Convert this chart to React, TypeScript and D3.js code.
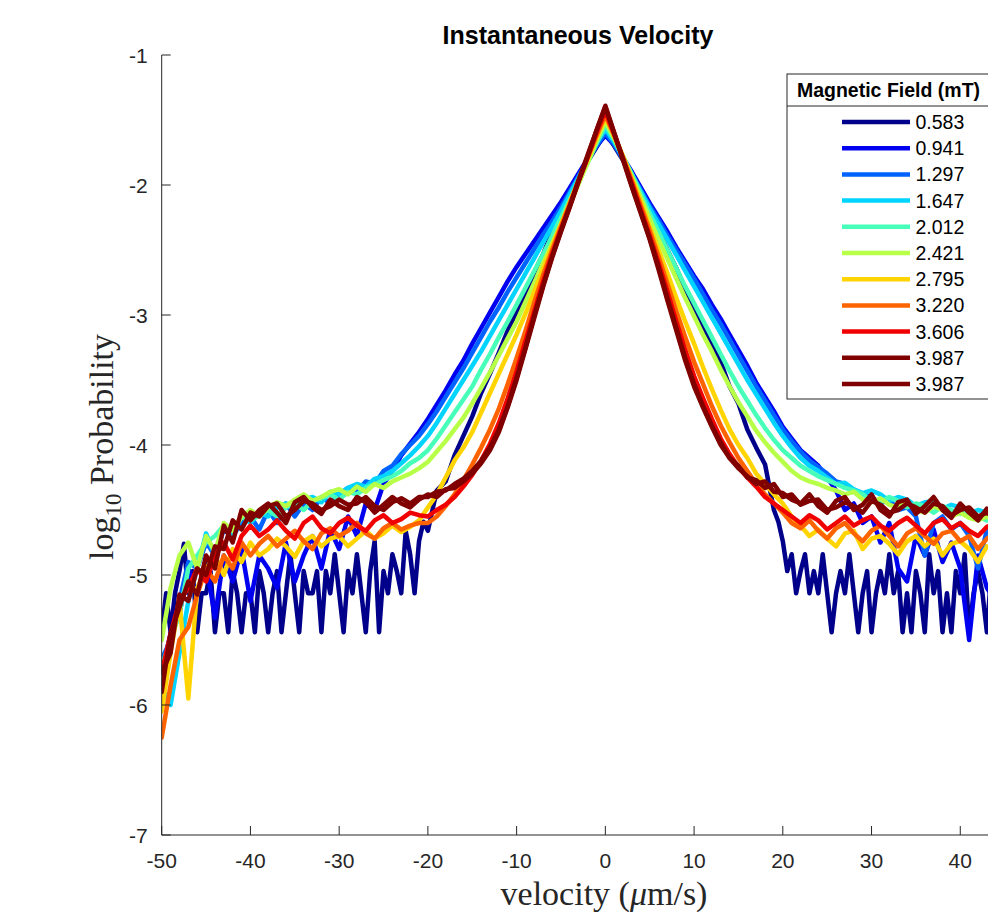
import React from "react";
import * as d3 from "d3";

const velocity = [
  -50, -49, -48, -47, -46, -45, -44, -43, -42, -41,
  -40, -39, -38, -37, -36, -35, -34, -33, -32, -31,
  -30, -29, -28, -27, -26, -25, -24, -23, -22, -21,
  -20, -19, -18, -17, -16, -15, -14, -13, -12, -11,
  -10, -9, -8, -7, -6, -5, -4, -3, -2, -1,
  0, 1, 2, 3, 4, 5, 6, 7, 8, 9,
  10, 11, 12, 13, 14, 15, 16, 17, 18, 19,
  20, 21, 22, 23, 24, 25, 26, 27, 28, 29,
  30, 31, 32, 33, 34, 35, 36, 37, 38, 39,
  40, 41, 42, 43, 44, 45,
];

// finer velocity grid for the 0.583 mT series (few counts -> noisy tails)
const velocityFine = [
  -50, -49.5, -49, -48.5, -48, -47.5, -47, -46.5, -46, -45.5,
  -45, -44.5, -44, -43.5, -43, -42.5, -42, -41.5, -41, -40.5,
  -40, -39.5, -39, -38.5, -38, -37.5, -37, -36.5, -36, -35.5,
  -35, -34.5, -34, -33.5, -33, -32.5, -32, -31.5, -31, -30.5,
  -30, -29.5, -29, -28.5, -28, -27.5, -27, -26.5, -26, -25.5,
  -25, -24.5, -24, -23.5, -23, -22.5, -22, -21.5, -21, -20.5,
  -20,
  -19, -18, -17, -16, -15, -14, -13, -12, -11, -10,
  -9, -8, -7, -6, -5, -4, -3, -2, -1, 0,
  1, 2, 3, 4, 5, 6, 7, 8, 9, 10,
  11, 12, 13, 14, 15, 16, 17, 18, 19,
  19.5, 20, 20.5, 21, 21.5, 22, 22.5, 23, 23.5, 24,
  24.5, 25, 25.5, 26, 26.5, 27, 27.5, 28, 28.5, 29,
  29.5, 30, 30.5, 31, 31.5, 32, 32.5, 33, 33.5, 34,
  34.5, 35, 35.5, 36, 36.5, 37, 37.5, 38, 38.5, 39,
  39.5, 40, 40.5, 41, 41.5, 42, 42.5, 43, 43.5, 44,
  44.5, 45,
];

const fieldLabels = ["0.583", "0.941", "1.297", "1.647", "2.012", "2.421", "2.795", "3.220", "3.606", "3.987", "3.987"];

const seriesColors = ["#00008A", "#0000F0", "#0063FF", "#00D4FF", "#47FFB8", "#B8FF47", "#FFD400", "#FF6300", "#F00000", "#800000", "#800000"];

const s0583 = [
  -5.44, -5.14, -5.44, -5.14, -4.97, -4.76, -5.14, -4.97, -5.44, -5.14,
  -5.14, -4.97, -5.44, -5.14, -5.14, -5.44, -4.97, -5.14, -5.44, -5.14,
  -5.14, -5.44, -4.97, -5.14, -5.44, -5.14, -4.97, -5.44, -5.14, -4.84,
  -5.14, -5.44, -4.97, -5.14, -5.14, -4.97, -5.44, -4.97, -5.14, -4.84,
  -5.14, -5.44, -4.97, -5.14, -4.84, -5.14, -5.44, -4.97, -4.74, -5.44,
  -4.97, -5.14, -4.84, -4.97, -5.14, -4.66, -4.84, -5.14, -4.74, -4.59,
  -4.66,
  -4.35, -4.28, -4.08, -3.93, -3.78, -3.6, -3.45, -3.29, -3.12, -2.98,
  -2.84, -2.67, -2.53, -2.36, -2.21, -2.08, -1.94, -1.82, -1.71, -1.6,
  -1.7, -1.81, -1.93, -2.06, -2.2, -2.35, -2.5, -2.64, -2.8, -2.95,
  -3.09, -3.23, -3.36, -3.55, -3.68, -3.88, -4.02, -4.15, -4.5,
  -4.59, -4.74, -4.97, -4.84, -5.14, -4.97, -4.84, -5.14, -4.97, -5.14,
  -4.84, -5.14, -5.44, -5.14, -4.97, -5.14, -4.84, -5.14, -5.44, -5.14,
  -4.97, -5.44, -5.14, -4.97, -5.14, -4.84, -5.14, -4.97, -5.44, -5.14,
  -5.44, -4.97, -5.14, -5.44, -4.84, -5.14, -4.97, -5.44, -5.14, -5.44,
  -4.97, -5.14, -4.84, -5.44, -5.14, -4.97, -5.14, -5.44, -4.97, -5.14,
  -5.44, -5.14,
];

const s0941 = [
  -5.75, -5.45, -5.3, -4.95, -5.15, -4.9, -5.33, -4.85, -5.05, -4.8,
  -5.2, -4.85, -4.95, -5.1, -4.75, -5.05, -4.85, -4.7, -4.95, -4.65,
  -4.8, -4.55, -4.7, -4.45, -4.5, -4.3, -4.2, -4.08, -3.99, -3.9,
  -3.8, -3.69, -3.58, -3.46, -3.35, -3.22, -3.1, -2.98, -2.86, -2.74,
  -2.63, -2.53, -2.43, -2.33, -2.23, -2.13, -2.02, -1.91, -1.8, -1.7,
  -1.62, -1.69, -1.79, -1.9, -2.02, -2.14, -2.25, -2.36, -2.48, -2.59,
  -2.7, -2.8, -2.92, -3.03, -3.15, -3.27, -3.39, -3.52, -3.63, -3.74,
  -3.86, -3.95, -4.04, -4.1, -4.16, -4.25, -4.35, -4.5, -4.45, -4.6,
  -4.55, -4.75, -4.6, -4.95, -5.05, -4.7, -4.85, -4.65, -4.9, -4.75,
  -4.95, -5.5, -4.85, -5.1, -5.2, -5.0,
];

const s1297 = [
  -5.65, -5.5, -5.2, -4.9, -4.95, -4.75, -4.85, -4.65, -4.7, -4.6,
  -4.55, -4.65, -4.5, -4.6, -4.45, -4.55, -4.45, -4.5, -4.4, -4.45,
  -4.38, -4.33, -4.36, -4.28, -4.3, -4.2, -4.16, -4.07, -4.0, -3.93,
  -3.84, -3.74, -3.63, -3.52, -3.41, -3.29, -3.17, -3.05, -2.94, -2.82,
  -2.71, -2.6, -2.49, -2.38, -2.28, -2.17, -2.05, -1.93, -1.81, -1.7,
  -1.6, -1.69, -1.8, -1.92, -2.04, -2.16, -2.27, -2.39, -2.5, -2.61,
  -2.72, -2.84, -2.96, -3.07, -3.19, -3.31, -3.43, -3.55, -3.66, -3.77,
  -3.88, -3.97, -4.05, -4.12, -4.17, -4.22, -4.28, -4.3, -4.35, -4.38,
  -4.4, -4.45, -4.42, -4.5, -4.48, -4.55, -4.85, -4.6, -4.55, -4.65,
  -4.6, -4.7, -4.95, -4.65, -4.75, -4.7,
];

const s1647 = [
  -5.85, -6.0, -5.6, -5.2, -4.95, -4.68, -4.85, -4.62, -4.7, -4.55,
  -4.6, -4.52, -4.55, -4.48, -4.45, -4.49, -4.42, -4.4, -4.44, -4.36,
  -4.38, -4.33, -4.3, -4.32, -4.26, -4.24, -4.2, -4.14, -4.08, -4.01,
  -3.93, -3.83, -3.72, -3.61, -3.5, -3.39, -3.28, -3.16, -3.04, -2.92,
  -2.8, -2.68, -2.56, -2.44, -2.32, -2.2, -2.07, -1.94, -1.81, -1.68,
  -1.57, -1.67, -1.79, -1.92, -2.05, -2.18, -2.3, -2.42, -2.54, -2.66,
  -2.78, -2.9, -3.02, -3.14, -3.26, -3.38, -3.5, -3.61, -3.72, -3.83,
  -3.93, -4.02, -4.1, -4.16, -4.2, -4.25, -4.3, -4.29, -4.34, -4.37,
  -4.35, -4.38, -4.43, -4.4, -4.42, -4.47, -4.44, -4.43, -4.49, -4.46,
  -4.48, -4.53, -4.5, -4.52, -4.58, -4.55,
];

const s2012 = [
  -5.7, -5.5, -5.3, -4.95, -4.85, -4.75, -4.7, -4.62, -4.66, -4.55,
  -4.58, -4.54, -4.5, -4.55, -4.48, -4.45, -4.5, -4.43, -4.41, -4.38,
  -4.42, -4.36, -4.38, -4.33, -4.3, -4.27, -4.24, -4.2, -4.14, -4.1,
  -4.04, -3.95, -3.85, -3.75, -3.65, -3.55, -3.42, -3.3, -3.17, -3.05,
  -2.92, -2.79, -2.66, -2.53, -2.39, -2.25, -2.11, -1.97, -1.83, -1.68,
  -1.54, -1.65, -1.78, -1.92, -2.07, -2.22, -2.36, -2.5, -2.64, -2.78,
  -2.91, -3.04, -3.17, -3.3, -3.43, -3.55, -3.66, -3.77, -3.87, -3.96,
  -4.04, -4.1, -4.16, -4.2, -4.24, -4.27, -4.3, -4.33, -4.35, -4.38,
  -4.42, -4.44, -4.4, -4.43, -4.48, -4.45, -4.47, -4.52, -4.47, -4.5,
  -4.53, -4.5, -4.55, -4.58, -4.54, -4.6,
];

const s2421 = [
  -5.5, -5.1, -4.85, -4.75, -4.95, -4.7, -4.82, -4.6, -4.66, -4.55,
  -4.5, -4.55, -4.48, -4.44, -4.47, -4.42, -4.38, -4.43, -4.4, -4.36,
  -4.34, -4.38, -4.32, -4.36, -4.3, -4.33, -4.28, -4.25, -4.22, -4.18,
  -4.13, -4.05, -3.97, -3.88, -3.79, -3.68, -3.56, -3.44, -3.31, -3.18,
  -3.05, -2.9, -2.75, -2.6, -2.45, -2.3, -2.15, -1.99, -1.83, -1.66,
  -1.51, -1.64, -1.79, -1.94, -2.1, -2.26, -2.42, -2.57, -2.72, -2.87,
  -3.01, -3.15, -3.28, -3.42, -3.55, -3.67, -3.78, -3.89, -3.98, -4.06,
  -4.13, -4.2, -4.25, -4.28, -4.3, -4.33, -4.35, -4.38, -4.36, -4.42,
  -4.44, -4.41, -4.46, -4.48, -4.44, -4.5, -4.52, -4.47, -4.5, -4.55,
  -4.52, -4.56, -4.58, -4.55, -4.6, -4.62,
];

const s2795 = [
  -6.05, -5.6, -5.2, -5.95, -5.1, -4.95, -4.85, -5.0, -4.8, -4.9,
  -4.75, -4.85, -4.8, -4.72, -4.78, -4.86, -4.74, -4.7, -4.78, -4.72,
  -4.7, -4.78, -4.72, -4.66, -4.72, -4.68, -4.62, -4.67, -4.63, -4.58,
  -4.48, -4.38, -4.25, -4.12, -4.02, -3.9, -3.75, -3.6, -3.45, -3.3,
  -3.15, -2.99, -2.82, -2.64, -2.47, -2.3, -2.13, -1.96, -1.8, -1.64,
  -1.48, -1.62, -1.78, -1.95, -2.13, -2.32, -2.5, -2.68, -2.87, -3.05,
  -3.22, -3.4, -3.57, -3.73, -3.88, -4.0, -4.1, -4.22, -4.3, -4.38,
  -4.45, -4.55, -4.62, -4.7, -4.65, -4.72, -4.78, -4.68, -4.66, -4.8,
  -4.72, -4.7, -4.76, -4.84, -4.74, -4.7, -4.78, -4.72, -4.85, -4.76,
  -4.74, -4.8, -4.9, -4.78, -4.8, -4.86,
];

const s3220 = [
  -6.25, -5.85, -5.5, -5.4, -5.15, -4.95, -5.05, -4.85, -4.95, -4.75,
  -4.85, -4.76, -4.7, -4.78, -4.72, -4.66, -4.74, -4.8, -4.68, -4.64,
  -4.7, -4.66, -4.6, -4.68, -4.72, -4.64, -4.6, -4.65, -4.62, -4.6,
  -4.6, -4.55, -4.47, -4.38, -4.27, -4.15, -4.02, -3.88, -3.72, -3.53,
  -3.33, -3.12, -2.9, -2.69, -2.5, -2.32, -2.14, -1.96, -1.79, -1.62,
  -1.46, -1.62, -1.79, -1.97, -2.16, -2.35, -2.55, -2.76, -2.97, -3.17,
  -3.36, -3.53, -3.7, -3.85, -3.98, -4.1, -4.2, -4.3, -4.38, -4.45,
  -4.52, -4.6, -4.64, -4.58, -4.66, -4.72, -4.64, -4.6, -4.68, -4.74,
  -4.66, -4.62, -4.7, -4.78, -4.68, -4.64, -4.7, -4.76, -4.68, -4.66,
  -4.74, -4.7, -4.8, -4.72, -4.68, -4.75,
];

const s3606 = [
  -5.75, -5.45, -5.2, -5.1, -4.95, -5.05, -4.85, -4.75, -4.88, -4.7,
  -4.62, -4.7, -4.65, -4.58, -4.66, -4.72, -4.6, -4.55, -4.64, -4.68,
  -4.6, -4.56, -4.62, -4.66, -4.58, -4.54, -4.6, -4.57, -4.52, -4.54,
  -4.55, -4.5, -4.46, -4.4, -4.32, -4.23, -4.12, -3.99, -3.83, -3.64,
  -3.43, -3.2, -2.97, -2.74, -2.53, -2.34, -2.16, -1.97, -1.79, -1.6,
  -1.43, -1.61, -1.8, -1.99, -2.19, -2.39, -2.6, -2.82, -3.05, -3.27,
  -3.47, -3.64, -3.8, -3.95, -4.07, -4.17, -4.25, -4.32, -4.4, -4.45,
  -4.5, -4.55, -4.6, -4.54, -4.58, -4.65, -4.6, -4.55, -4.62, -4.58,
  -4.55, -4.62, -4.66, -4.6, -4.56, -4.62, -4.68, -4.6, -4.57, -4.64,
  -4.6, -4.66, -4.7, -4.63, -4.6, -4.66,
];

const s3987a = [
  -5.9, -5.45, -5.25, -5.05, -5.15, -4.85, -4.95, -4.62, -4.75, -4.5,
  -4.58, -4.5, -4.45, -4.52, -4.6, -4.44, -4.4, -4.48, -4.53, -4.42,
  -4.47, -4.5, -4.4, -4.44, -4.52, -4.46, -4.4, -4.45, -4.48, -4.42,
  -4.38, -4.4, -4.34, -4.33, -4.28, -4.22, -4.14, -4.04, -3.9, -3.71,
  -3.5, -3.26, -3.02, -2.78, -2.56, -2.36, -2.17, -1.97, -1.78, -1.58,
  -1.39, -1.6, -1.81, -2.02, -2.22, -2.42, -2.65, -2.89, -3.12, -3.35,
  -3.55, -3.71, -3.86, -4.0, -4.1, -4.18, -4.24, -4.3, -4.28, -4.36,
  -4.37, -4.42, -4.45, -4.38, -4.47, -4.52, -4.43, -4.4, -4.5, -4.46,
  -4.38, -4.5, -4.55, -4.44, -4.42, -4.53, -4.47, -4.4, -4.5, -4.56,
  -4.45, -4.52, -4.58, -4.49, -4.53, -4.56,
];

const s3987b = [
  -5.75, -5.6, -5.15, -5.2, -4.95, -5.0, -4.78, -4.8, -4.58, -4.65,
  -4.52, -4.55, -4.47, -4.45, -4.55, -4.5, -4.43, -4.45, -4.5, -4.47,
  -4.42, -4.46, -4.45, -4.4, -4.47, -4.5, -4.44, -4.41, -4.45, -4.4,
  -4.4, -4.36, -4.35, -4.3, -4.26, -4.2, -4.12, -4.02, -3.88, -3.7,
  -3.48, -3.25, -3.0, -2.77, -2.55, -2.35, -2.16, -1.96, -1.77, -1.58,
  -1.4, -1.6, -1.8, -2.01, -2.21, -2.41, -2.63, -2.87, -3.1, -3.33,
  -3.53, -3.7, -3.85, -3.98, -4.1, -4.16, -4.25, -4.27, -4.33, -4.3,
  -4.4, -4.38, -4.46, -4.43, -4.42, -4.5, -4.48, -4.44, -4.47, -4.52,
  -4.43, -4.46, -4.52, -4.5, -4.45, -4.48, -4.52, -4.45, -4.47, -4.54,
  -4.5, -4.48, -4.55, -4.52, -4.57, -4.54,
];

const allSeries = [s0583, s0941, s1297, s1647, s2012, s2421, s2795, s3220, s3606, s3987a, s3987b];
const allVelocity = [velocityFine, velocity, velocity, velocity, velocity, velocity, velocity, velocity, velocity, velocity, velocity];

const xTicks = [-50, -40, -30, -20, -10, 0, 10, 20, 30, 40, 50];
const xTickLabels = ["-50", "-40", "-30", "-20", "-10", "0", "10", "20", "30", "40", ""];
const yTicks = [-7, -6, -5, -4, -3, -2, -1];

const W = 988;
const H = 912;
const AX_L = 161.7;
const AX_R = 161.7 + 100 * 8.873;
const AX_T = 55;
const AX_B = 835;
const AXIS_COLOR = "#262626";
const SANS = "'Liberation Sans', Arial, Helvetica, sans-serif";
const SERIF = "'Liberation Serif', 'Times New Roman', serif";

export default function App() {
  const x = d3.scaleLinear().domain([-50, 50]).range([AX_L, AX_R]);
  const y = d3.scaleLinear().domain([-7, -1]).range([AX_B, AX_T]);
  const makeLine = (v: number[]) =>
    d3
      .line<number>()
      .x((_, i) => x(v[i]))
      .y((d) => y(d));

  const legX = 787;
  const legTop = 74;
  const legBottom = 399;
  const legSep = 106;
  const rowY0 = 122;
  const rowStep = 26.2;

  return (
    <svg
      width={W}
      height={H}
      style={{ position: "absolute", left: 0, top: 0, background: "#fff" }}
    >
      <rect x={0} y={0} width={W} height={H} fill="#fff" />
      <defs>
        <clipPath id="plotClip">
          <rect x={AX_L} y={AX_T} width={AX_R - AX_L} height={AX_B - AX_T} />
        </clipPath>
      </defs>

      <g clipPath="url(#plotClip)">
        {allSeries.map((s, k) => (
          <path
            key={k}
            d={makeLine(allVelocity[k])(s) || ""}
            fill="none"
            stroke={seriesColors[k]}
            strokeWidth={4.5}
            strokeLinejoin="round"
            strokeLinecap="round"
          />
        ))}
      </g>

      {/* axes */}
      <line x1={AX_L} x2={AX_L} y1={AX_T} y2={AX_B} stroke={AXIS_COLOR} strokeWidth={1} />
      <line x1={AX_L} x2={AX_R} y1={AX_B} y2={AX_B} stroke={AXIS_COLOR} strokeWidth={1} />
      {yTicks.map((t) => (
        <g key={"y" + t}>
          <line x1={AX_L} x2={AX_L + 9} y1={y(t)} y2={y(t)} stroke={AXIS_COLOR} strokeWidth={1} />
          <text
            x={AX_L - 14}
            y={y(t)}
            textAnchor="end"
            dominantBaseline="central"
            fontFamily={SANS}
            fontSize={21}
            fill={AXIS_COLOR}
          >
            {t}
          </text>
        </g>
      ))}
      {xTicks.map((t, i) => (
        <g key={"x" + t}>
          <line x1={x(t)} x2={x(t)} y1={AX_B} y2={AX_B - 9} stroke={AXIS_COLOR} strokeWidth={1} />
          {xTickLabels[i] !== "" && (
            <text
              x={x(t)}
              y={868}
              textAnchor="middle"
              fontFamily={SANS}
              fontSize={21}
              fill={AXIS_COLOR}
            >
              {xTickLabels[i]}
            </text>
          )}
        </g>
      ))}

      {/* title */}
      <text x={578} y={44} textAnchor="middle" fontFamily={SANS} fontWeight="bold" fontSize={25} fill="#000">
        Instantaneous Velocity
      </text>

      {/* x label */}
      <text x={604} y={905} textAnchor="middle" fontFamily={SERIF} fontSize={34} fill={AXIS_COLOR}>
        velocity (<tspan fontStyle="italic">μ</tspan>m/s)
      </text>

      {/* y label */}
      <text
        transform="translate(113,447) rotate(-90)"
        textAnchor="middle"
        fontFamily={SERIF}
        fontSize={34}
        fill={AXIS_COLOR}
      >
        log<tspan dy={8} fontSize={23}>10</tspan>
        <tspan dy={-8}> Probability</tspan>
      </text>

      {/* legend */}
      <rect
        x={legX}
        y={legTop}
        width={W - legX + 20}
        height={legBottom - legTop}
        fill="#fff"
        stroke={AXIS_COLOR}
        strokeWidth={1}
      />
      <line x1={legX} x2={W + 20} y1={legSep} y2={legSep} stroke={AXIS_COLOR} strokeWidth={1} />
      <text x={888.5} y={97} textAnchor="middle" fontFamily={SANS} fontWeight="bold" fontSize={19.5} fill="#000">
        Magnetic Field (mT)
      </text>
      {fieldLabels.map((lab, i) => (
        <g key={"leg" + i}>
          <line
            x1={842}
            x2={910}
            y1={rowY0 + i * rowStep}
            y2={rowY0 + i * rowStep}
            stroke={seriesColors[i]}
            strokeWidth={4.5}
          />
          <text
            x={915.5}
            y={rowY0 + i * rowStep}
            dominantBaseline="central"
            fontFamily={SANS}
            fontSize={19.5}
            fill="#000"
          >
            {lab}
          </text>
        </g>
      ))}
    </svg>
  );
}
